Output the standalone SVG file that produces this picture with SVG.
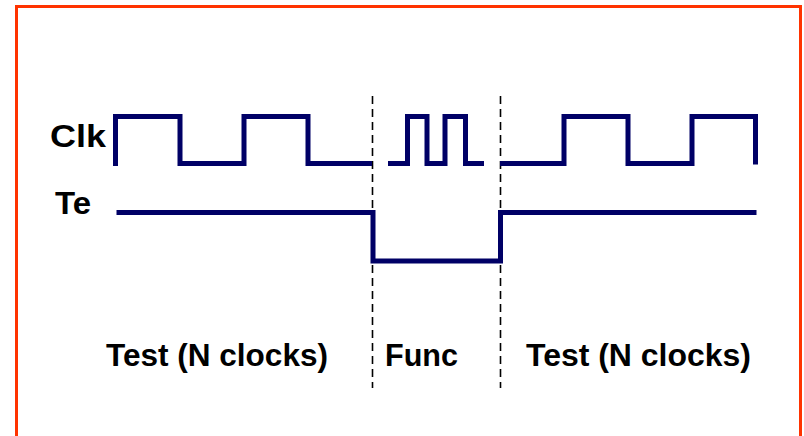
<svg xmlns="http://www.w3.org/2000/svg" width="804" height="436" viewBox="0 0 804 436">
<style>
.wave{fill:none;stroke:#000066;stroke-width:5;stroke-linejoin:miter;stroke-linecap:butt}
.div{stroke:#000;stroke-width:1.6;stroke-dasharray:8 5;fill:none}
.lbl{font-family:"Liberation Sans",Arial,sans-serif;font-weight:bold;font-size:31px;fill:#000}
</style>
<rect x="0" y="0" width="804" height="436" fill="#fff"/>
<rect id="frame" x="16.5" y="6.5" width="784" height="445" fill="none" stroke="#ff3300" stroke-width="3"/>
<g id="dividers">
<line class="div" x1="372.5" y1="96" x2="372.5" y2="388"/>
<line class="div" x1="500.5" y1="96" x2="500.5" y2="388"/>
</g>
<g id="clk">
<text class="lbl" x="50" y="147" textLength="56" lengthAdjust="spacingAndGlyphs">Clk</text>
<polyline class="wave" points="115.5,166 115.5,116.5 180,116.5 180,163.5 244,163.5 244,116.5 308,116.5 308,163.5 372,163.5"/>
<polyline class="wave" points="388,163.5 407.5,163.5 407.5,116.5 427,116.5 427,163.5 445,163.5 445,116.5 465.5,116.5 465.5,163.5 484,163.5"/>
<polyline class="wave" points="500,163.5 564,163.5 564,116.5 628,116.5 628,163.5 692,163.5 692,116.5 755.5,116.5 755.5,164.5"/>
</g>
<g id="te">
<text class="lbl" x="55" y="214" textLength="36" lengthAdjust="spacingAndGlyphs">Te</text>
<polyline class="wave" points="116.5,212.5 373,212.5 373,261 500.5,261 500.5,212.5 756.5,212.5"/>
</g>
<g id="labels">
<text class="lbl" x="106" y="366" textLength="222" lengthAdjust="spacingAndGlyphs">Test (N clocks)</text>
<text class="lbl" x="385" y="366" textLength="73" lengthAdjust="spacingAndGlyphs">Func</text>
<text class="lbl" x="526" y="366" textLength="225" lengthAdjust="spacingAndGlyphs">Test (N clocks)</text>
</g>
</svg>
